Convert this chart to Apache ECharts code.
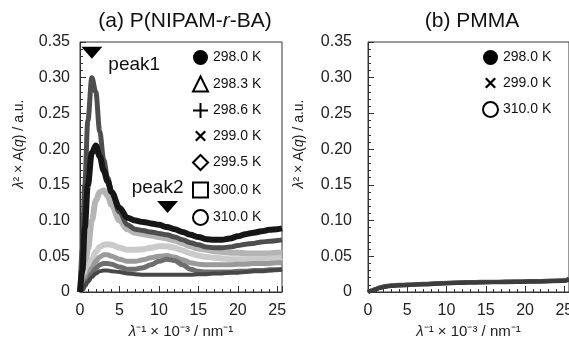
<!DOCTYPE html>
<html>
<head>
<meta charset="utf-8">
<script src="https://cdn.jsdelivr.net/npm/echarts/dist/echarts.min.js"></script>
<style>
  html, body { margin: 0; padding: 0; background: #fff; }
  #chart { width: 569px; height: 338px; }
</style>
</head>
<body>
<div id="chart"></div>
<script>
// ---- data ----
// (a) P(NIPAM-r-BA)
const tempsA = ['298.0 K', '298.3 K', '298.6 K', '299.0 K', '299.5 K', '300.0 K', '310.0 K'];
const xA = [0, 0.3, 0.6, 1, 1.5, 2, 2.5, 3, 3.5, 4, 5, 6, 7, 8, 9, 10, 11, 12, 13, 14, 15, 16, 17, 18, 19, 20, 21, 22, 23, 24, 25, 25.6];
const a2980 = [0, 0.03, 0.09, 0.15, 0.195, 0.205, 0.19, 0.17, 0.155, 0.14, 0.118, 0.104, 0.1, 0.098, 0.096, 0.094, 0.091, 0.088, 0.084, 0.08, 0.077, 0.074, 0.073, 0.073, 0.075, 0.078, 0.081, 0.083, 0.085, 0.087, 0.088, 0.089];
const a2983 = [0, 0.06, 0.15, 0.24, 0.3, 0.28, 0.225, 0.185, 0.16, 0.14, 0.112, 0.094, 0.088, 0.086, 0.084, 0.082, 0.08, 0.077, 0.073, 0.069, 0.066, 0.063, 0.062, 0.062, 0.063, 0.065, 0.067, 0.068, 0.07, 0.071, 0.072, 0.073];
const a2986 = [0, 0.01, 0.03, 0.06, 0.1, 0.128, 0.14, 0.142, 0.135, 0.122, 0.1, 0.088, 0.083, 0.081, 0.079, 0.077, 0.075, 0.072, 0.068, 0.064, 0.061, 0.059, 0.057, 0.056, 0.055, 0.055, 0.054, 0.054, 0.054, 0.054, 0.055, 0.055];
const a2990 = [0, 0.005, 0.015, 0.03, 0.045, 0.056, 0.063, 0.066, 0.067, 0.066, 0.062, 0.059, 0.059, 0.06, 0.062, 0.064, 0.064, 0.062, 0.058, 0.054, 0.051, 0.049, 0.048, 0.047, 0.046, 0.046, 0.046, 0.046, 0.046, 0.047, 0.047, 0.048];
const a2995 = [0, 0.004, 0.012, 0.022, 0.034, 0.043, 0.049, 0.052, 0.052, 0.05, 0.046, 0.043, 0.043, 0.045, 0.048, 0.05, 0.051, 0.049, 0.045, 0.041, 0.039, 0.038, 0.038, 0.038, 0.038, 0.039, 0.039, 0.04, 0.04, 0.04, 0.041, 0.041];
const a3000 = [0, 0.003, 0.009, 0.017, 0.026, 0.033, 0.038, 0.04, 0.04, 0.039, 0.035, 0.032, 0.032, 0.034, 0.038, 0.043, 0.046, 0.044, 0.038, 0.032, 0.029, 0.028, 0.028, 0.028, 0.028, 0.029, 0.029, 0.03, 0.03, 0.031, 0.031, 0.032];
const a3100 = [0, 0.003, 0.008, 0.014, 0.021, 0.026, 0.029, 0.03, 0.03, 0.029, 0.028, 0.026, 0.025, 0.024, 0.024, 0.024, 0.024, 0.024, 0.024, 0.024, 0.025, 0.025, 0.026, 0.026, 0.027, 0.027, 0.028, 0.029, 0.029, 0.03, 0.031, 0.031];
const valuesA = [a2980, a2983, a2986, a2990, a2995, a3000, a3100];

const peakNames = ['peak1', 'peak2'];
const peakX = [1.5, 11.1];
const peakY = [0.335, 0.119];

// (b) PMMA
const tempsB = ['298.0 K', '299.0 K', '310.0 K'];
const xB = [0, 0.5, 1, 1.5, 2, 3, 4, 5, 7, 10, 13, 16, 19, 22, 25, 25.6];
const b2980 = [0, 0.002, 0.004, 0.006, 0.0075, 0.009, 0.0095, 0.01, 0.011, 0.0125, 0.0135, 0.014, 0.0145, 0.015, 0.016, 0.018];
const b2990 = [0, 0.0025, 0.0045, 0.0065, 0.008, 0.0095, 0.01, 0.0105, 0.0115, 0.013, 0.014, 0.0145, 0.015, 0.0155, 0.0165, 0.019];
const b3100 = [0, 0.0015, 0.0035, 0.0055, 0.007, 0.0085, 0.009, 0.0095, 0.0105, 0.012, 0.013, 0.0135, 0.014, 0.0145, 0.0155, 0.017];
const valuesB = [b2980, b2990, b3100];

const yTicks = [0, 0.05, 0.1, 0.15, 0.2, 0.25, 0.3, 0.35];
const xTicks = [0, 5, 10, 15, 20, 25];

// ---- styles ----
const FONT = "'Liberation Sans', Arial, sans-serif";
const INK = '#222';
const AXIS = '#333';
const colorsA = ['#161616', '#4e4e4e', '#b4b4b4', '#cacaca', '#9a9a9a', '#6e6e6e', '#474747'];
const widthsA = [6, 5, 6, 6, 5, 5, 4];
const drawOrderA = [2, 3, 4, 5, 6, 1, 0];
const colorsB = ['#444', '#505050', '#3c3c3c'];

const PLUS = 'path://M6.5,0H8.5V6.5H15V8.5H8.5V15H6.5V8.5H0V6.5H6.5Z';
const CROSS = 'path://M0,0h0.01v0.01h-0.01z M15,15h-0.01v-0.01h0.01z M2,3.6L3.6,2L13,11.4L11.4,13Z M13,3.6L3.6,13L2,11.4L11.4,2Z';
const filled = { color: '#000', borderColor: '#000', borderWidth: 0 };
const open = { color: '#fff', borderColor: '#000', borderWidth: 2 };
const iconsA = [['circle', filled], ['triangle', open], [PLUS, filled], [CROSS, filled], ['diamond', open], ['rect', open], ['circle', open]];
const iconsB = [['circle', filled], [CROSS, filled], ['circle', open]];

const grids = [
  { left: 80, top: 42, width: 202, height: 250 },
  { left: 368, top: 42, width: 201, height: 250 }
];

function xAxisFor(gi) {
  return {
    type: 'value', gridIndex: gi, min: 0, max: 25.6, interval: 5,
    name: '{i|λ}⁻¹ × 10⁻³ / nm⁻¹', nameLocation: 'middle', nameGap: 25,
    nameTextStyle: { fontSize: 15, color: INK, fontFamily: FONT, rich: { i: { fontStyle: 'italic', fontSize: 15, fontFamily: FONT, color: INK } } },
    axisLine: { show: true, onZero: false, lineStyle: { color: AXIS, width: 1 } },
    axisTick: { show: true, inside: true, length: 6, lineStyle: { color: AXIS } },
    minorTick: { show: true, splitNumber: 5, length: 3, lineStyle: { color: AXIS } },
    axisLabel: { fontSize: 16, color: INK, fontFamily: FONT, margin: 11, showMaxLabel: false,
      formatter: v => xTicks.includes(v) ? String(v) : '' },
    splitLine: { show: false }
  };
}

function yAxisFor(gi, gap, labelMargin) {
  return {
    type: 'value', gridIndex: gi, min: 0, max: 0.35, interval: 0.05,
    name: '{i|λ}² × A({i|q}) / a.u.', nameLocation: 'middle', nameGap: gap,
    nameTextStyle: { fontSize: 14, color: INK, fontFamily: FONT, padding: [0, 0, 0, 46],
      rich: { i: { fontStyle: 'italic', fontSize: 14, fontFamily: FONT, color: INK } } },
    axisLine: { show: true, onZero: false, lineStyle: { color: AXIS, width: 1 } },
    axisTick: { show: true, inside: true, length: 6, lineStyle: { color: AXIS } },
    minorTick: { show: true, splitNumber: 5, length: 3, lineStyle: { color: AXIS } },
    axisLabel: { fontSize: 16, color: INK, fontFamily: FONT, margin: labelMargin,
      formatter: v => v === 0 ? '0' : (yTicks.some(t => Math.abs(t - v) < 1e-9) ? v.toFixed(2) : '') },
    splitLine: { show: false }
  };
}

function legendFor(names, icons, left) {
  return {
    orient: 'vertical', left: left, top: 50, padding: 0,
    itemWidth: 15, itemHeight: 15, itemGap: 10.5, selectedMode: false,
    textStyle: { fontSize: 14, color: '#111', fontFamily: FONT, lineHeight: 15 },
    data: names.map((n, i) => ({ name: n, icon: icons[i][0], itemStyle: icons[i][1] }))
  };
}

const series = [];
drawOrderA.forEach(i => {
  series.push({
    name: tempsA[i], type: 'line', xAxisIndex: 0, yAxisIndex: 0,
    data: xA.map((x, k) => [x, valuesA[i][k]]),
    showSymbol: false, smooth: 0.35, smoothMonotone: 'x',
    lineStyle: { color: colorsA[i], width: widthsA[i] },
    itemStyle: { color: colorsA[i] }
  });
});
valuesB.forEach((vals, i) => {
  series.push({
    name: tempsB[i], type: 'line', xAxisIndex: 1, yAxisIndex: 1,
    data: xB.map((x, k) => [x, vals[k]]),
    showSymbol: false, smooth: 0.35, smoothMonotone: 'x',
    lineStyle: { color: colorsB[i], width: 4 },
    itemStyle: { color: colorsB[i] }
  });
});
const peakLabels = [
  { position: 'right', distance: 6, offset: [0, 12] },
  { position: 'top', distance: 4, offset: [-10, 0] }
];
series.push({
  name: 'peaks', type: 'scatter', xAxisIndex: 0, yAxisIndex: 0, z: 5,
  symbol: 'triangle', symbolRotate: 180, symbolSize: [21, 12],
  itemStyle: { color: '#000', opacity: 1 },
  data: peakX.map((x, i) => ({
    value: [x, peakY[i]],
    label: Object.assign({ show: true, formatter: peakNames[i], fontSize: 19, color: '#111', opacity: 1, fontFamily: FONT }, peakLabels[i])
  }))
});

const option = {
  animation: false,
  backgroundColor: '#fff',
  textStyle: { fontFamily: FONT },
  title: [
    { text: '(a) P(NIPAM-{i|r}-BA)', left: 180, top: 6, textAlign: 'center',
      textStyle: { fontSize: 21, fontWeight: 'normal', color: '#111', fontFamily: FONT,
        rich: { i: { fontStyle: 'italic', fontSize: 21, color: '#111', fontFamily: FONT } } } },
    { text: '(b) PMMA', left: 467, top: 6, textAlign: 'center',
      textStyle: { fontSize: 21, fontWeight: 'normal', color: '#111', fontFamily: FONT } }
  ],
  legend: [legendFor(tempsA, iconsA, 192), legendFor(tempsB, iconsB, 482)],
  grid: grids.map(g => Object.assign({ show: true, borderColor: AXIS, borderWidth: 1, backgroundColor: 'transparent', containLabel: false, outerBoundsMode: 'none' }, g)),
  xAxis: [xAxisFor(0), xAxisFor(1)],
  yAxis: [yAxisFor(0, 54, 10), yAxisFor(1, 62, 16)],
  series: series
};

const chart = echarts.init(document.getElementById('chart'), null, { renderer: 'canvas' });
chart.setOption(option);
</script>
</body>
</html>
